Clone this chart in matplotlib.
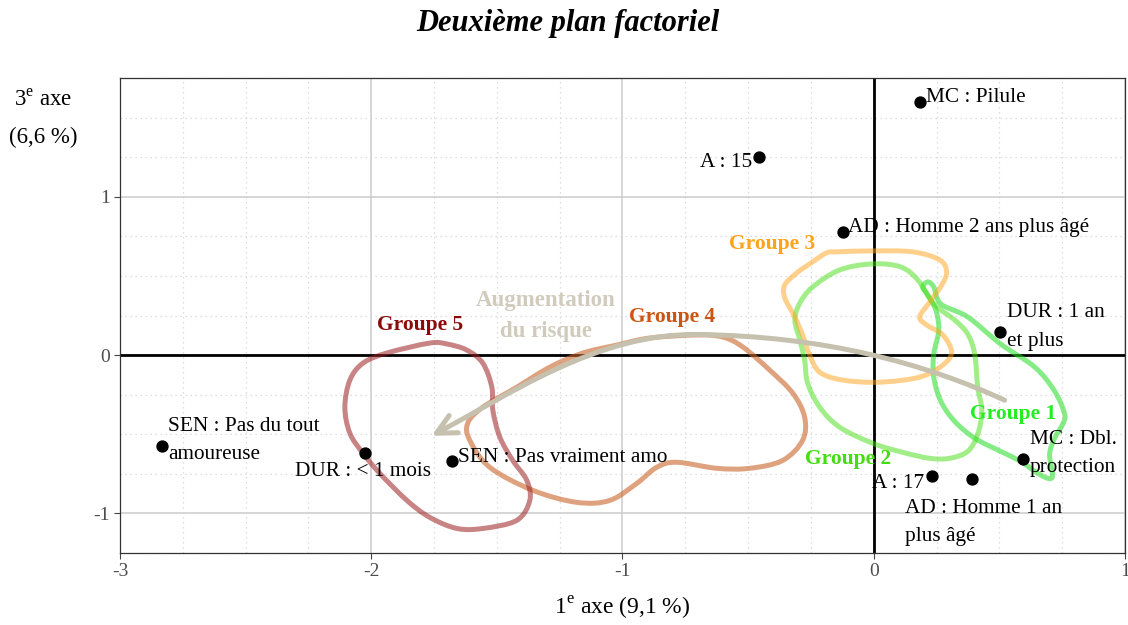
import numpy as np
import matplotlib
matplotlib.use("Agg")
import matplotlib.pyplot as plt
from matplotlib.path import Path
from matplotlib.patches import PathPatch, FancyArrowPatch
from matplotlib.ticker import MultipleLocator

plt.rcParams["font.family"] = ["Liberation Serif", "DejaVu Serif"]
plt.rcParams["mathtext.fontset"] = "custom"
plt.rcParams["mathtext.rm"] = "Liberation Serif"

# Modalities (coordinates on axes 1 and 3)
labels = ["MC : Pilule", "A : 15", "AD : Homme 2 ans plus âgé", "DUR : 1 an\net plus",
          "SEN : Pas du tout\namoureuse", "DUR : < 1 mois", "SEN : Pas vraiment amo",
          "MC : Dbl.\nprotection", "A : 17", "AD : Homme 1 an\nplus âgé"]
pt_x = [0.183, -0.458, -0.123, 0.501, -2.833, -2.024, -1.679, 0.593, 0.231, 0.390]
pt_y = [1.60, 1.253, 0.778, 0.146, -0.576, -0.620, -0.671, -0.658, -0.766, -0.785]

# Group outlines
g1_x = [0.195, 0.215, 0.239, 0.267, 0.374, 0.505, 0.641, 0.720, 0.760, 0.752, 0.720, 0.700, 0.712,
        0.692, 0.641, 0.585, 0.505, 0.402, 0.322, 0.267, 0.239, 0.239, 0.259, 0.247, 0.215]
g1_y = [0.430, 0.462, 0.430, 0.323, 0.241, 0.070, -0.076, -0.228, -0.373, -0.437, -0.525, -0.627, -0.759,
        -0.778, -0.734, -0.671, -0.608, -0.525, -0.418, -0.291, -0.139, 0.006, 0.158, 0.285, 0.380]
g2_x = [-0.004, 0.107, 0.175, 0.239, 0.322, 0.374, 0.402, 0.414, 0.430, 0.414, 0.374, 0.302, 0.223,
        0.115, -0.004, -0.135, -0.215, -0.263, -0.275, -0.294, -0.314, -0.294, -0.243, -0.135]
g2_y = [0.576, 0.557, 0.475, 0.323, 0.222, 0.133, 0.006, -0.203, -0.348, -0.500, -0.608, -0.652, -0.652,
        -0.614, -0.557, -0.456, -0.329, -0.177, -0.032, 0.095, 0.222, 0.329, 0.430, 0.538]
g3_x = [-0.147, -0.004, 0.155, 0.263, 0.290, 0.271, 0.223, 0.183, 0.211, 0.275, 0.310, 0.275, 0.183,
        0.024, -0.123, -0.215, -0.255, -0.283, -0.314, -0.354, -0.354, -0.306, -0.243, -0.187]
g3_y = [0.652, 0.658, 0.652, 0.601, 0.525, 0.443, 0.335, 0.241, 0.190, 0.127, 0.019, -0.063, -0.139,
        -0.171, -0.158, -0.108, 0.000, 0.127, 0.241, 0.361, 0.443, 0.519, 0.589, 0.646]
g4_x = [-0.704, -0.891, -1.023, -1.158, -1.289, -1.421, -1.556, -1.616, -1.608, -1.528, -1.357, -1.182,
        -1.051, -0.943, -0.864, -0.784, -0.625, -0.493, -0.362, -0.283, -0.275, -0.322, -0.414, -0.521, -0.601]
g4_y = [0.127, 0.108, 0.063, 0.013, -0.076, -0.203, -0.329, -0.430, -0.538, -0.709, -0.854, -0.930,
        -0.918, -0.810, -0.709, -0.677, -0.715, -0.715, -0.665, -0.538, -0.392, -0.241, -0.095, 0.051, 0.114]
g5_x = [-1.767, -1.938, -2.033, -2.085, -2.105, -2.085, -2.033, -1.966, -1.858, -1.767, -1.659, -1.556,
        -1.421, -1.369, -1.381, -1.437, -1.488, -1.516, -1.520, -1.556, -1.620, -1.699]
g5_y = [0.076, 0.013, -0.051, -0.158, -0.329, -0.494, -0.620, -0.747, -0.918, -1.025, -1.095, -1.095,
        -1.044, -0.918, -0.791, -0.665, -0.519, -0.348, -0.203, -0.051, 0.032, 0.070]

group_names = ["Groupe 1", "Groupe 2", "Groupe 3", "Groupe 4", "Groupe 5"]
group_lab_x = [0.553, -0.103, -0.406, -0.804, -1.807]
group_lab_y = [-0.373, -0.658, 0.703, 0.241, 0.190]
group_colors = ["#22ee22", "#44dd11", "#ffa31a", "#cc5511", "#8b0a0a"]
group_line_colors = ["#22dd22", "#44dd11", "#ffa31a", "#c86428", "#9b2020"]

# "Augmentation du risque" arrow (cubic bezier nodes)
arrow_x = [0.521, 0.20, -0.20, -0.70, -1.10, -1.45, -1.76]
arrow_y = [-0.285, -0.05, 0.12, 0.13, 0.14, -0.25, -0.51]

x_ticks = [-3, -2, -1, 0, 1]
y_ticks = [-1, 0, 1]


def closed_smooth(xs, ys):
    p = np.column_stack([xs, ys])
    n = len(p)
    verts = [p[0]]
    codes = [Path.MOVETO]
    for i in range(n):
        p0, p1, p2, p3 = p[i - 1], p[i], p[(i + 1) % n], p[(i + 2) % n]
        verts += [p1 + (p2 - p0) / 6, p2 - (p3 - p1) / 6, p2]
        codes += [Path.CURVE4] * 3
    return Path(verts, codes)


fig = plt.figure(figsize=(11.28, 6.25), dpi=100)
ax = fig.add_axes([0.1064, 0.1152, 0.8909, 0.76])
ax.set_xlim(-3, 1)
ax.set_ylim(-1.25, 1.75)
ax.set_xticks(x_ticks)
ax.set_xticklabels([str(t) for t in x_ticks])
ax.set_yticks(y_ticks)
ax.set_yticklabels([str(t) for t in y_ticks])
ax.xaxis.set_minor_locator(MultipleLocator(0.25))
ax.yaxis.set_minor_locator(MultipleLocator(0.25))
ax.grid(which="major", color="#cccccc", lw=1.1, ls="-")
ax.grid(which="minor", color="#d4d4d4", lw=0.9, ls=(0, (1, 3)))
ax.set_axisbelow(True)
ax.tick_params(which="minor", length=0)
ax.tick_params(which="major", length=4, color="#444444", labelsize=14, labelcolor="#4d4d4d")
for s in ax.spines.values():
    s.set_color("#333333")
    s.set_linewidth(0.9)

ax.axhline(0, color="black", lw=2, zorder=1.5)
ax.axvline(0, color="black", lw=2, zorder=1.5)

groups = [(g1_x, g1_y), (g2_x, g2_y), (g3_x, g3_y), (g4_x, g4_y), (g5_x, g5_y)]
alphas = [0.55, 0.5, 0.5, 0.6, 0.55]
for (gx, gy), c, a in zip(groups, group_line_colors, alphas):
    ax.add_patch(PathPatch(closed_smooth(gx, gy), fill=False, ec=c, lw=3.6, alpha=a, zorder=2))

for name, x, y, c in zip(group_names, group_lab_x, group_lab_y, group_colors):
    ax.text(x, y, name, color=c, fontsize=15.5, fontweight="bold", ha="center", va="center", zorder=4)

arrow_path = Path(np.column_stack([arrow_x, arrow_y]),
                  [Path.MOVETO] + [Path.CURVE4] * 6)
ax.add_patch(FancyArrowPatch(path=arrow_path, arrowstyle="->,head_length=14,head_width=7",
                             color="#c5c1ae", lw=3.6, zorder=2.5))
ax.text(-1.305, 0.247, "Augmentation\ndu risque", color="#d0cbbc", fontsize=16.5,
        fontweight="bold", ha="center", va="center", linespacing=1.66, zorder=4)

ax.scatter(pt_x, pt_y, s=62, color="black", zorder=5)

# label offsets in pixels (dx, dy, ha)
offsets = [(6, 4, "left"), (-6, -6, "right"), (5, 4, "left"), (7, 5, "left"), (6, 6, "left"),
           (-2, -18, "center"), (6, 4, "left"), (7, 6, "left"), (-8, -7, "right"), (-67, -43, "left")]
for lab, x, y, (dx, dy, ha) in zip(labels, pt_x, pt_y, offsets):
    ax.annotate(lab, (x, y), xytext=(dx * 0.72, dy * 0.72), textcoords="offset points",
                ha=ha, va="center", fontsize=15.3, linespacing=1.68, zorder=6)

fig.text(0.503, 1 - 23 / 625, "Deuxième plan factoriel", fontsize=22, fontweight="bold",
         fontstyle="italic", ha="center", va="center")
fig.text(43 / 1128, 1 - 100 / 625, "3$^{\\mathrm{e}}$ axe", fontsize=16.5, ha="center", va="center")
fig.text(43 / 1128, 1 - 137 / 625, "(6,6 %)", fontsize=16.5, ha="center", va="center")
fig.text(622 / 1128, 1 - 608 / 625, "1$^{\\mathrm{e}}$ axe (9,1 %)", fontsize=17, ha="center", va="center")

fig.savefig("out.png", dpi=100)
